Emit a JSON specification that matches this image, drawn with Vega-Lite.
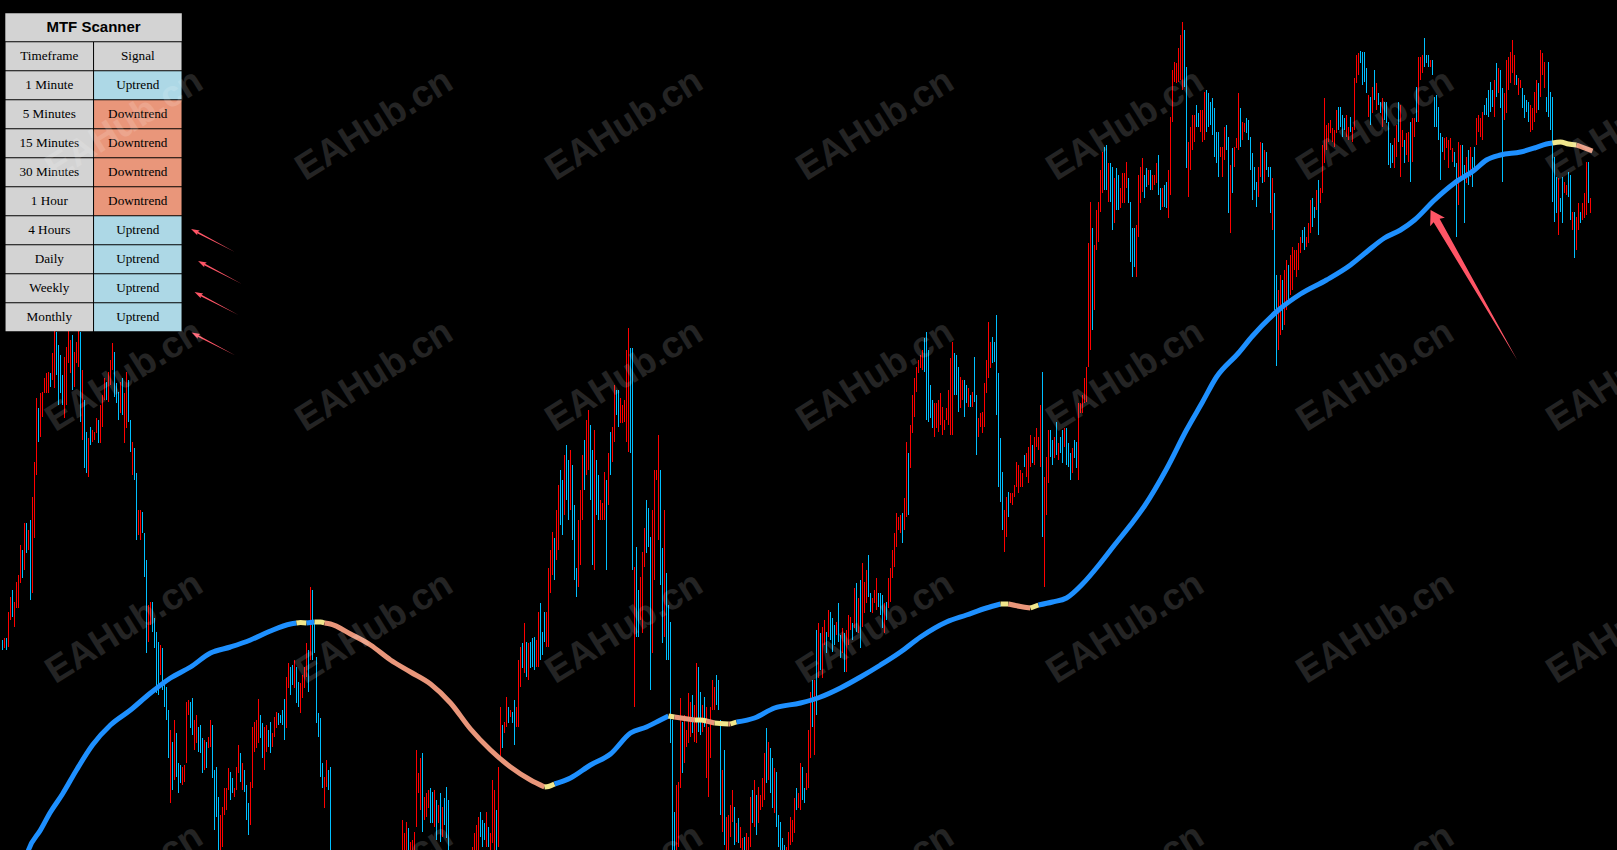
{
"$schema":"https://vega.github.io/schema/vega-lite/v6.json",
"width":1617,"height":850,"padding":0,"autosize":{"type":"none"},
"background":"#000000",
"config":{"view":{"stroke":null}},
"datasets":{
"bars":[
{"k":1,"h":210,"l":200,"c":"d"},{"k":2,"h":212,"l":202,"c":"u"},{"k":3,"h":212,"l":200,"c":"d"},{"k":4,"h":238,"l":203,"c":"u"},{"k":5,"h":253,"l":230,"c":"u"},{"k":6,"h":260,"l":233,"c":"d"},{"k":7,"h":248,"l":223,"c":"u"},{"k":8,"h":268,"l":242,"c":"u"},{"k":9,"h":275,"l":242,"c":"u"},{"k":10,"h":305,"l":267,"c":"u"},
{"k":11,"h":300,"l":272,"c":"d"},{"k":12,"h":327,"l":280,"c":"u"},{"k":13,"h":327,"l":297,"c":"d"},{"k":14,"h":320,"l":300,"c":"u"},{"k":15,"h":330,"l":250,"c":"d"},{"k":16,"h":353,"l":257,"c":"u"},{"k":17,"h":388,"l":312,"c":"u"},{"k":18,"h":452,"l":375,"c":"u"},{"k":19,"h":442,"l":408,"c":"d"},{"k":20,"h":457,"l":413,"c":"u"},
{"k":21,"h":458,"l":433,"c":"u"},{"k":22,"h":472,"l":457,"c":"u"},{"k":23,"h":477,"l":457,"c":"u"},{"k":24,"h":478,"l":457,"c":"u"},{"k":25,"h":477,"l":463,"c":"d"},{"k":26,"h":497,"l":470,"c":"u"},{"k":27,"h":525,"l":462,"c":"u"},{"k":28,"h":518,"l":475,"c":"d"},{"k":29,"h":505,"l":445,"c":"d"},{"k":30,"h":495,"l":457,"c":"d"},
{"k":31,"h":475,"l":445,"c":"d"},{"k":32,"h":493,"l":432,"c":"u"},{"k":33,"h":503,"l":445,"c":"u"},{"k":34,"h":525,"l":487,"c":"u"},{"k":35,"h":510,"l":477,"c":"u"},{"k":36,"h":515,"l":460,"c":"d"},{"k":37,"h":498,"l":463,"c":"u"},{"k":38,"h":508,"l":487,"c":"u"},{"k":39,"h":528,"l":483,"c":"u"},{"k":40,"h":518,"l":428,"c":"d"},
{"k":41,"h":480,"l":410,"c":"u"},{"k":42,"h":450,"l":382,"c":"d"},{"k":43,"h":418,"l":377,"c":"d"},{"k":44,"h":412,"l":373,"c":"u"},{"k":45,"h":423,"l":405,"c":"d"},{"k":46,"h":420,"l":408,"c":"u"},{"k":47,"h":418,"l":410,"c":"u"},{"k":48,"h":432,"l":417,"c":"u"},{"k":49,"h":430,"l":407,"c":"d"},{"k":50,"h":445,"l":407,"c":"u"},
{"k":51,"h":455,"l":423,"c":"u"},{"k":52,"h":472,"l":450,"c":"u"},{"k":53,"h":468,"l":450,"c":"d"},{"k":54,"h":478,"l":448,"c":"u"},{"k":55,"h":490,"l":465,"c":"u"},{"k":56,"h":507,"l":480,"c":"u"},{"k":57,"h":498,"l":453,"c":"d"},{"k":58,"h":467,"l":447,"c":"d"},{"k":59,"h":458,"l":430,"c":"d"},{"k":60,"h":468,"l":437,"c":"u"},
{"k":61,"h":472,"l":435,"c":"d"},{"k":62,"h":457,"l":407,"c":"u"},{"k":63,"h":478,"l":422,"c":"u"},{"k":64,"h":470,"l":428,"c":"d"},{"k":65,"h":430,"l":398,"c":"d"},{"k":66,"h":408,"l":375,"c":"u"},{"k":67,"h":402,"l":370,"c":"d"},{"k":68,"h":377,"l":310,"c":"d"},{"k":69,"h":340,"l":315,"c":"u"},{"k":70,"h":340,"l":310,"c":"u"},
{"k":71,"h":338,"l":317,"c":"d"},{"k":72,"h":317,"l":273,"c":"d"},{"k":73,"h":290,"l":197,"c":"d"},{"k":74,"h":245,"l":208,"c":"u"},{"k":75,"h":248,"l":225,"c":"u"},{"k":76,"h":248,"l":218,"c":"d"},{"k":77,"h":232,"l":202,"c":"d"},{"k":78,"h":218,"l":157,"c":"d"},{"k":79,"h":208,"l":155,"c":"d"},{"k":80,"h":205,"l":175,"c":"u"},
{"k":81,"h":202,"l":160,"c":"d"},{"k":82,"h":165,"l":143,"c":"d"},{"k":83,"h":163,"l":130,"c":"d"},{"k":84,"h":140,"l":92,"c":"d"},{"k":85,"h":120,"l":47,"c":"u"},{"k":86,"h":108,"l":60,"c":"d"},{"k":87,"h":130,"l":70,"c":"u"},{"k":88,"h":117,"l":73,"c":"d"},{"k":89,"h":87,"l":57,"c":"d"},{"k":90,"h":85,"l":67,"c":"d"},
{"k":91,"h":83,"l":65,"c":"u"},{"k":92,"h":85,"l":68,"c":"u"},{"k":93,"h":148,"l":87,"c":"u"},{"k":94,"h":150,"l":135,"c":"u"},{"k":95,"h":148,"l":122,"c":"d"},{"k":96,"h":152,"l":115,"c":"d"},{"k":97,"h":130,"l":100,"c":"u"},{"k":98,"h":135,"l":107,"c":"u"},{"k":99,"h":123,"l":98,"c":"d"},{"k":100,"h":125,"l":97,"c":"d"},
{"k":101,"h":112,"l":77,"c":"d"},{"k":102,"h":110,"l":80,"c":"u"},{"k":103,"h":108,"l":82,"c":"d"},{"k":104,"h":113,"l":102,"c":"u"},{"k":105,"h":130,"l":103,"c":"u"},{"k":106,"h":125,"l":72,"c":"d"},{"k":107,"h":80,"l":20,"c":"d"},{"k":108,"h":83,"l":33,"c":"d"},{"k":109,"h":53,"l":-10,"c":"d"},{"k":110,"h":35,"l":-10,"c":"u"},
{"k":111,"h":43,"l":3,"c":"u"},{"k":112,"h":62,"l":35,"c":"u"},{"k":113,"h":62,"l":40,"c":"u"},{"k":114,"h":82,"l":60,"c":"u"},{"k":115,"h":78,"l":50,"c":"d"},{"k":116,"h":72,"l":57,"c":"d"},{"k":117,"h":62,"l":53,"c":"u"},{"k":118,"h":83,"l":60,"c":"u"},{"k":119,"h":105,"l":77,"c":"u"},{"k":120,"h":97,"l":68,"c":"d"},
{"k":121,"h":87,"l":60,"c":"u"},{"k":122,"h":80,"l":58,"c":"d"},{"k":123,"h":65,"l":30,"c":"d"},{"k":124,"h":47,"l":15,"c":"d"},{"k":125,"h":68,"l":25,"c":"u"},{"k":126,"h":123,"l":62,"c":"u"},{"k":127,"h":128,"l":98,"c":"u"},{"k":128,"h":130,"l":102,"c":"u"},{"k":129,"h":151,"l":107,"c":"u"},{"k":130,"h":135,"l":112,"c":"d"},
{"k":131,"h":127,"l":92,"c":"d"},{"k":132,"h":123,"l":80,"c":"u"},{"k":133,"h":125,"l":98,"c":"u"},{"k":134,"h":120,"l":103,"c":"d"},{"k":135,"h":128,"l":97,"c":"d"},{"k":136,"h":117,"l":103,"c":"u"},{"k":137,"h":133,"l":113,"c":"u"},{"k":138,"h":138,"l":122,"c":"u"},{"k":139,"h":137,"l":125,"c":"d"},{"k":140,"h":135,"l":127,"c":"d"},
{"k":141,"h":140,"l":125,"c":"d"},{"k":142,"h":151,"l":110,"c":"d"},{"k":143,"h":173,"l":122,"c":"u"},{"k":144,"h":187,"l":162,"c":"u"},{"k":145,"h":183,"l":155,"c":"d"},{"k":146,"h":185,"l":165,"c":"d"},{"k":147,"h":190,"l":162,"c":"u"},{"k":148,"h":183,"l":147,"c":"d"},{"k":149,"h":168,"l":143,"c":"d"},{"k":150,"h":167,"l":137,"c":"u"},
{"k":151,"h":175,"l":152,"c":"u"},{"k":152,"h":183,"l":162,"c":"u"},{"k":153,"h":207,"l":173,"c":"u"},{"k":154,"h":200,"l":158,"c":"d"},{"k":155,"h":263,"l":190,"c":"u"},{"k":156,"h":260,"l":190,"c":"d"},{"k":157,"h":227,"l":197,"c":"d"},{"k":158,"h":193,"l":127,"c":"d"},{"k":159,"h":137,"l":113,"c":"d"},{"k":160,"h":132,"l":73,"c":"d"},
{"k":161,"h":87,"l":62,"c":"d"},{"k":162,"h":73,"l":42,"c":"u"},{"k":163,"h":90,"l":63,"c":"u"},{"k":164,"h":80,"l":60,"c":"d"},{"k":165,"h":83,"l":-20,"c":"d"},{"k":166,"h":-5,"l":-60,"c":"d"},{"k":167,"h":-20,"l":-70,"c":"d"},{"k":168,"h":-15,"l":-55,"c":"u"},{"k":169,"h":-30,"l":-80,"c":"d"},{"k":170,"h":-40,"l":-95,"c":"d"},
{"k":171,"h":-35,"l":-80,"c":"u"},{"k":172,"h":-25,"l":-70,"c":"u"},{"k":173,"h":-30,"l":-85,"c":"d"},{"k":174,"h":-50,"l":-100,"c":"d"},{"k":175,"h":-45,"l":-90,"c":"u"},{"k":176,"h":-55,"l":-110,"c":"d"},{"k":177,"h":-70,"l":-120,"c":"d"},{"k":178,"h":-60,"l":-105,"c":"u"},{"k":179,"h":-50,"l":-95,"c":"u"},{"k":180,"h":-55,"l":-100,"c":"d"},
{"k":181,"h":-40,"l":-90,"c":"u"},{"k":182,"h":-30,"l":-75,"c":"u"},{"k":183,"h":-35,"l":-80,"c":"d"},{"k":184,"h":-50,"l":-95,"c":"d"},{"k":185,"h":-45,"l":-85,"c":"u"},{"k":186,"h":-35,"l":-80,"c":"u"},{"k":187,"h":-40,"l":-90,"c":"d"},{"k":188,"h":-55,"l":-100,"c":"d"},{"k":189,"h":-50,"l":-95,"c":"u"},{"k":190,"h":-40,"l":-85,"c":"u"},
{"k":191,"h":-30,"l":-70,"c":"u"},{"k":192,"h":-35,"l":-75,"c":"d"},{"k":193,"h":-25,"l":-65,"c":"u"},{"k":194,"h":-15,"l":-60,"c":"u"},{"k":195,"h":-20,"l":-70,"c":"d"},{"k":196,"h":-10,"l":-55,"c":"u"},{"k":197,"h":-5,"l":-45,"c":"u"},{"k":198,"h":-15,"l":-50,"c":"d"},{"k":199,"h":-5,"l":-40,"c":"u"},{"k":200,"h":-3,"l":-30,"c":"u"},
{"k":201,"h":30,"l":-15,"c":"u"},{"k":202,"h":17,"l":-10,"c":"u"},{"k":203,"h":28,"l":-15,"c":"u"},{"k":204,"h":22,"l":-10,"c":"d"},{"k":205,"h":8,"l":-20,"c":"u"},{"k":206,"h":10,"l":-15,"c":"u"},{"k":207,"h":18,"l":-10,"c":"u"},{"k":208,"h":100,"l":23,"c":"u"},{"k":209,"h":77,"l":57,"c":"u"},{"k":210,"h":92,"l":40,"c":"u"},
{"k":211,"h":97,"l":18,"c":"d"},{"k":212,"h":53,"l":30,"c":"u"},{"k":213,"h":57,"l":33,"c":"u"},{"k":214,"h":60,"l":42,"c":"u"},{"k":215,"h":62,"l":27,"c":"d"},{"k":216,"h":58,"l":27,"c":"d"},{"k":217,"h":60,"l":23,"c":"u"},{"k":218,"h":50,"l":10,"c":"d"},{"k":219,"h":45,"l":27,"c":"u"},{"k":220,"h":57,"l":8,"c":"d"},
{"k":221,"h":43,"l":13,"c":"u"},{"k":222,"h":52,"l":25,"c":"d"},{"k":223,"h":63,"l":12,"c":"d"},{"k":224,"h":50,"l":-15,"c":"d"},{"k":225,"h":-5,"l":-50,"c":"d"},{"k":226,"h":-15,"l":-60,"c":"d"},{"k":227,"h":-10,"l":-55,"c":"u"},{"k":228,"h":-25,"l":-70,"c":"d"},{"k":229,"h":-30,"l":-80,"c":"d"},{"k":230,"h":-20,"l":-65,"c":"u"},
{"k":231,"h":-15,"l":-60,"c":"u"},{"k":232,"h":-20,"l":-60,"c":"d"},{"k":233,"h":-10,"l":-50,"c":"u"},{"k":234,"h":-5,"l":-45,"c":"u"},{"k":235,"h":-8,"l":-40,"c":"d"},{"k":236,"h":3,"l":-20,"c":"u"},{"k":237,"h":17,"l":-15,"c":"u"},{"k":238,"h":25,"l":-10,"c":"u"},{"k":239,"h":33,"l":0,"c":"u"},{"k":240,"h":38,"l":13,"c":"d"},
{"k":241,"h":30,"l":3,"c":"d"},{"k":242,"h":27,"l":10,"c":"d"},{"k":243,"h":38,"l":3,"c":"u"},{"k":244,"h":23,"l":3,"c":"d"},{"k":245,"h":17,"l":-10,"c":"u"},{"k":246,"h":70,"l":7,"c":"u"},{"k":247,"h":60,"l":-10,"c":"u"},{"k":248,"h":40,"l":-10,"c":"d"},{"k":249,"h":83,"l":3,"c":"u"},{"k":250,"h":143,"l":90,"c":"u"},
{"k":251,"h":125,"l":102,"c":"d"},{"k":252,"h":128,"l":117,"c":"u"},{"k":253,"h":153,"l":123,"c":"u"},{"k":254,"h":143,"l":127,"c":"d"},{"k":255,"h":140,"l":133,"c":"u"},{"k":256,"h":138,"l":127,"c":"d"},{"k":257,"h":150,"l":105,"c":"d"},{"k":258,"h":143,"l":123,"c":"u"},{"k":259,"h":190,"l":123,"c":"u"},{"k":260,"h":203,"l":163,"c":"u"},
{"k":261,"h":207,"l":182,"c":"d"},{"k":262,"h":227,"l":177,"c":"u"},{"k":263,"h":208,"l":173,"c":"d"},{"k":264,"h":207,"l":170,"c":"u"},{"k":265,"h":208,"l":182,"c":"d"},{"k":266,"h":212,"l":183,"c":"d"},{"k":267,"h":213,"l":180,"c":"d"},{"k":268,"h":210,"l":183,"c":"u"},{"k":269,"h":238,"l":183,"c":"u"},{"k":270,"h":247,"l":190,"c":"d"},
{"k":271,"h":218,"l":195,"c":"d"},{"k":272,"h":238,"l":208,"c":"d"},{"k":273,"h":238,"l":203,"c":"u"},{"k":274,"h":282,"l":203,"c":"u"},{"k":275,"h":300,"l":257,"c":"u"},{"k":276,"h":318,"l":275,"c":"u"},{"k":277,"h":312,"l":270,"c":"d"},{"k":278,"h":340,"l":290,"c":"u"},{"k":279,"h":365,"l":300,"c":"u"},{"k":280,"h":380,"l":325,"c":"d"},
{"k":281,"h":370,"l":315,"c":"d"},{"k":282,"h":395,"l":335,"c":"u"},{"k":283,"h":405,"l":350,"c":"d"},{"k":284,"h":390,"l":330,"c":"d"},{"k":285,"h":400,"l":340,"c":"u"},{"k":286,"h":385,"l":310,"c":"d"},{"k":287,"h":345,"l":270,"c":"d"},{"k":288,"h":282,"l":253,"c":"d"},{"k":289,"h":330,"l":263,"c":"u"},{"k":290,"h":360,"l":285,"c":"u"},
{"k":291,"h":395,"l":330,"c":"u"},{"k":292,"h":410,"l":360,"c":"d"},{"k":293,"h":430,"l":375,"c":"u"},{"k":294,"h":440,"l":380,"c":"u"},{"k":295,"h":425,"l":350,"c":"d"},{"k":296,"h":400,"l":285,"c":"d"},{"k":297,"h":420,"l":280,"c":"u"},{"k":298,"h":390,"l":335,"c":"d"},{"k":299,"h":375,"l":330,"c":"d"},{"k":300,"h":350,"l":330,"c":"u"},
{"k":301,"h":347,"l":330,"c":"u"},{"k":302,"h":378,"l":330,"c":"u"},{"k":303,"h":370,"l":280,"c":"d"},{"k":304,"h":397,"l":345,"c":"u"},{"k":305,"h":418,"l":375,"c":"d"},{"k":306,"h":423,"l":388,"c":"u"},{"k":307,"h":465,"l":408,"c":"u"},{"k":308,"h":460,"l":435,"c":"d"},{"k":309,"h":460,"l":423,"c":"d"},{"k":310,"h":452,"l":427,"c":"u"},
{"k":311,"h":445,"l":427,"c":"u"},{"k":312,"h":450,"l":428,"c":"u"},{"k":313,"h":500,"l":408,"c":"u"},{"k":314,"h":522,"l":398,"c":"u"},{"k":315,"h":502,"l":397,"c":"d"},{"k":316,"h":502,"l":280,"c":"d"},{"k":317,"h":283,"l":143,"c":"u"},{"k":318,"h":303,"l":213,"c":"d"},{"k":319,"h":260,"l":213,"c":"d"},{"k":320,"h":273,"l":230,"c":"u"},
{"k":321,"h":298,"l":217,"c":"u"},{"k":322,"h":322,"l":283,"c":"u"},{"k":323,"h":350,"l":297,"c":"d"},{"k":324,"h":342,"l":303,"c":"d"},{"k":325,"h":313,"l":160,"c":"d"},{"k":326,"h":340,"l":197,"c":"u"},{"k":327,"h":380,"l":270,"c":"u"},{"k":328,"h":380,"l":370,"c":"u"},{"k":329,"h":415,"l":310,"c":"u"},{"k":330,"h":380,"l":265,"c":"d"},
{"k":331,"h":302,"l":207,"c":"d"},{"k":332,"h":340,"l":213,"c":"u"},{"k":333,"h":277,"l":190,"c":"d"},{"k":334,"h":245,"l":190,"c":"d"},{"k":335,"h":228,"l":107,"c":"d"},{"k":336,"h":130,"l":-10,"c":"d"},{"k":337,"h":38,"l":-10,"c":"d"},{"k":338,"h":65,"l":-10,"c":"u"},{"k":339,"h":68,"l":3,"c":"u"},{"k":340,"h":152,"l":62,"c":"u"},
{"k":341,"h":128,"l":77,"c":"d"},{"k":342,"h":135,"l":87,"c":"u"},{"k":343,"h":120,"l":103,"c":"u"},{"k":344,"h":157,"l":107,"c":"u"},{"k":345,"h":148,"l":113,"c":"u"},{"k":346,"h":155,"l":117,"c":"d"},{"k":347,"h":145,"l":108,"c":"u"},{"k":348,"h":187,"l":107,"c":"u"},{"k":349,"h":183,"l":118,"c":"d"},{"k":350,"h":158,"l":115,"c":"d"},
{"k":351,"h":145,"l":118,"c":"u"},{"k":352,"h":153,"l":123,"c":"d"},{"k":353,"h":143,"l":72,"c":"u"},{"k":354,"h":123,"l":53,"c":"u"},{"k":355,"h":143,"l":92,"c":"u"},{"k":356,"h":170,"l":140,"c":"u"},{"k":357,"h":163,"l":140,"c":"u"},{"k":358,"h":175,"l":145,"c":"d"},{"k":359,"h":170,"l":140,"c":"d"},{"k":360,"h":130,"l":35,"c":"d"},
{"k":361,"h":80,"l":18,"c":"u"},{"k":362,"h":100,"l":5,"c":"d"},{"k":363,"h":33,"l":-10,"c":"u"},{"k":364,"h":35,"l":-10,"c":"u"},{"k":365,"h":45,"l":13,"c":"u"},{"k":366,"h":60,"l":28,"c":"u"},{"k":367,"h":43,"l":5,"c":"d"},{"k":368,"h":27,"l":8,"c":"u"},{"k":369,"h":32,"l":7,"c":"d"},{"k":370,"h":23,"l":2,"c":"u"},
{"k":371,"h":12,"l":-10,"c":"u"},{"k":372,"h":13,"l":-10,"c":"d"},{"k":373,"h":17,"l":-10,"c":"u"},{"k":374,"h":13,"l":-10,"c":"u"},{"k":375,"h":53,"l":3,"c":"u"},{"k":376,"h":60,"l":27,"c":"d"},{"k":377,"h":70,"l":23,"c":"u"},{"k":378,"h":55,"l":15,"c":"d"},{"k":379,"h":63,"l":27,"c":"u"},{"k":380,"h":55,"l":40,"c":"u"},
{"k":381,"h":72,"l":43,"c":"u"},{"k":382,"h":97,"l":50,"c":"u"},{"k":383,"h":122,"l":67,"c":"d"},{"k":384,"h":108,"l":70,"c":"u"},{"k":385,"h":102,"l":57,"c":"d"},{"k":386,"h":92,"l":42,"c":"d"},{"k":387,"h":82,"l":37,"c":"u"},{"k":388,"h":78,"l":23,"c":"d"},{"k":389,"h":35,"l":3,"c":"d"},{"k":390,"h":28,"l":-10,"c":"d"},
{"k":391,"h":12,"l":-15,"c":"d"},{"k":392,"h":5,"l":-20,"c":"d"},{"k":393,"h":3,"l":-20,"c":"u"},{"k":394,"h":18,"l":-10,"c":"u"},{"k":395,"h":33,"l":5,"c":"u"},{"k":396,"h":30,"l":8,"c":"u"},{"k":397,"h":52,"l":17,"c":"u"},{"k":398,"h":62,"l":40,"c":"d"},{"k":399,"h":57,"l":42,"c":"u"},{"k":400,"h":87,"l":40,"c":"u"},
{"k":401,"h":83,"l":50,"c":"d"},{"k":402,"h":62,"l":47,"c":"d"},{"k":403,"h":77,"l":60,"c":"u"},{"k":404,"h":120,"l":62,"c":"u"},{"k":405,"h":158,"l":92,"c":"u"},{"k":406,"h":170,"l":123,"c":"d"},{"k":407,"h":170,"l":95,"c":"u"},{"k":408,"h":220,"l":135,"c":"d"},{"k":409,"h":227,"l":172,"c":"u"},{"k":410,"h":217,"l":180,"c":"d"},
{"k":411,"h":223,"l":172,"c":"u"},{"k":412,"h":230,"l":205,"c":"u"},{"k":413,"h":218,"l":197,"c":"d"},{"k":414,"h":240,"l":213,"c":"u"},{"k":415,"h":238,"l":210,"c":"d"},{"k":416,"h":232,"l":198,"c":"d"},{"k":417,"h":225,"l":205,"c":"d"},{"k":418,"h":228,"l":215,"c":"u"},{"k":419,"h":247,"l":208,"c":"d"},{"k":420,"h":215,"l":192,"c":"d"},
{"k":421,"h":222,"l":197,"c":"u"},{"k":422,"h":217,"l":178,"c":"d"},{"k":423,"h":220,"l":178,"c":"u"},{"k":424,"h":235,"l":205,"c":"u"},{"k":425,"h":233,"l":220,"c":"u"},{"k":426,"h":227,"l":210,"c":"d"},{"k":427,"h":262,"l":222,"c":"u"},{"k":428,"h":267,"l":218,"c":"d"},{"k":429,"h":252,"l":217,"c":"u"},{"k":430,"h":270,"l":202,"c":"d"},
{"k":431,"h":287,"l":223,"c":"u"},{"k":432,"h":268,"l":237,"c":"u"},{"k":433,"h":280,"l":247,"c":"u"},{"k":434,"h":295,"l":253,"c":"d"},{"k":435,"h":257,"l":238,"c":"d"},{"k":436,"h":252,"l":237,"c":"u"},{"k":437,"h":260,"l":247,"c":"u"},{"k":438,"h":272,"l":240,"c":"u"},{"k":439,"h":257,"l":243,"c":"d"},{"k":440,"h":257,"l":235,"c":"d"},
{"k":441,"h":255,"l":222,"c":"d"},{"k":442,"h":247,"l":217,"c":"u"},{"k":443,"h":248,"l":230,"c":"d"},{"k":444,"h":272,"l":242,"c":"u"},{"k":445,"h":282,"l":248,"c":"u"},{"k":446,"h":300,"l":272,"c":"u"},{"k":447,"h":317,"l":283,"c":"u"},{"k":448,"h":337,"l":303,"c":"u"},{"k":449,"h":333,"l":320,"c":"u"},{"k":450,"h":335,"l":317,"c":"u"},
{"k":451,"h":337,"l":307,"c":"d"},{"k":452,"h":352,"l":320,"c":"u"},{"k":453,"h":408,"l":333,"c":"u"},{"k":454,"h":397,"l":335,"c":"d"},{"k":455,"h":425,"l":382,"c":"u"},{"k":456,"h":455,"l":417,"c":"u"},{"k":457,"h":472,"l":433,"c":"u"},{"k":458,"h":483,"l":458,"c":"u"},{"k":459,"h":490,"l":477,"c":"u"},{"k":460,"h":495,"l":482,"c":"u"},
{"k":461,"h":500,"l":480,"c":"u"},{"k":462,"h":512,"l":478,"c":"d"},{"k":463,"h":518,"l":430,"c":"d"},{"k":464,"h":500,"l":428,"c":"d"},{"k":465,"h":465,"l":432,"c":"d"},{"k":466,"h":450,"l":422,"c":"d"},{"k":467,"h":447,"l":413,"c":"u"},{"k":468,"h":447,"l":422,"c":"u"},{"k":469,"h":450,"l":418,"c":"u"},{"k":470,"h":457,"l":425,"c":"u"},
{"k":471,"h":443,"l":415,"c":"u"},{"k":472,"h":430,"l":420,"c":"u"},{"k":473,"h":442,"l":430,"c":"u"},{"k":474,"h":460,"l":425,"c":"u"},{"k":475,"h":492,"l":415,"c":"u"},{"k":476,"h":508,"l":415,"c":"u"},{"k":477,"h":497,"l":455,"c":"d"},{"k":478,"h":495,"l":455,"c":"d"},{"k":479,"h":483,"l":438,"c":"d"},{"k":480,"h":473,"l":442,"c":"u"},
{"k":481,"h":470,"l":450,"c":"u"},{"k":482,"h":470,"l":433,"c":"d"},{"k":483,"h":465,"l":447,"c":"d"},{"k":484,"h":462,"l":443,"c":"u"},{"k":485,"h":455,"l":443,"c":"d"},{"k":486,"h":458,"l":443,"c":"u"},{"k":487,"h":493,"l":448,"c":"d"},{"k":488,"h":455,"l":395,"c":"d"},{"k":489,"h":432,"l":413,"c":"u"},{"k":490,"h":437,"l":423,"c":"u"},
{"k":491,"h":438,"l":417,"c":"u"},{"k":492,"h":467,"l":423,"c":"u"},{"k":493,"h":490,"l":457,"c":"u"},{"k":494,"h":528,"l":472,"c":"u"},{"k":495,"h":508,"l":482,"c":"u"},{"k":496,"h":513,"l":487,"c":"d"},{"k":497,"h":508,"l":488,"c":"d"},{"k":498,"h":535,"l":435,"c":"d"},{"k":499,"h":477,"l":363,"c":"d"},{"k":500,"h":412,"l":348,"c":"d"},
{"k":501,"h":378,"l":320,"c":"d"},{"k":502,"h":340,"l":298,"c":"u"},{"k":503,"h":353,"l":313,"c":"u"},{"k":504,"h":358,"l":333,"c":"d"},{"k":505,"h":357,"l":347,"c":"u"},{"k":506,"h":357,"l":345,"c":"u"},{"k":507,"h":365,"l":353,"c":"u"},{"k":508,"h":388,"l":363,"c":"u"},{"k":509,"h":385,"l":357,"c":"u"},{"k":510,"h":380,"l":363,"c":"u"},
{"k":511,"h":377,"l":363,"c":"u"},{"k":512,"h":395,"l":383,"c":"d"},{"k":513,"h":397,"l":373,"c":"u"},{"k":514,"h":403,"l":367,"c":"u"},{"k":515,"h":415,"l":383,"c":"u"},{"k":516,"h":405,"l":387,"c":"d"},{"k":517,"h":413,"l":385,"c":"u"},{"k":518,"h":422,"l":403,"c":"u"},{"k":519,"h":413,"l":400,"c":"u"},{"k":520,"h":445,"l":383,"c":"u"},
{"k":521,"h":478,"l":313,"c":"d"},{"k":522,"h":373,"l":263,"c":"u"},{"k":523,"h":393,"l":335,"c":"u"},{"k":524,"h":420,"l":367,"c":"u"},{"k":525,"h":420,"l":393,"c":"d"},{"k":526,"h":410,"l":385,"c":"d"},{"k":527,"h":413,"l":392,"c":"u"},{"k":528,"h":428,"l":395,"c":"d"},{"k":529,"h":407,"l":390,"c":"u"},{"k":530,"h":413,"l":397,"c":"d"},
{"k":531,"h":420,"l":387,"c":"d"},{"k":532,"h":422,"l":403,"c":"u"},{"k":533,"h":422,"l":385,"c":"d"},{"k":534,"h":407,"l":383,"c":"d"},{"k":535,"h":397,"l":370,"c":"d"},{"k":536,"h":402,"l":377,"c":"u"},{"k":537,"h":410,"l":392,"c":"d"},{"k":538,"h":408,"l":382,"c":"d"},{"k":539,"h":447,"l":370,"c":"u"},{"k":540,"h":447,"l":437,"c":"u"},
{"k":541,"h":455,"l":437,"c":"u"},{"k":542,"h":472,"l":447,"c":"u"},{"k":543,"h":483,"l":448,"c":"u"},{"k":544,"h":607,"l":483,"c":"u"},{"k":545,"h":648,"l":500,"c":"u"},{"k":546,"h":622,"l":520,"c":"d"},{"k":547,"h":605,"l":540,"c":"u"},{"k":548,"h":640,"l":600,"c":"u"},{"k":549,"h":648,"l":608,"c":"u"},{"k":550,"h":680,"l":638,"c":"u"},
{"k":551,"h":698,"l":657,"c":"u"},{"k":552,"h":703,"l":660,"c":"d"},{"k":553,"h":705,"l":660,"c":"d"},{"k":554,"h":687,"l":648,"c":"u"},{"k":555,"h":687,"l":648,"c":"d"},{"k":556,"h":683,"l":620,"c":"d"},{"k":557,"h":672,"l":627,"c":"u"},{"k":558,"h":682,"l":640,"c":"d"},{"k":559,"h":675,"l":640,"c":"d"},{"k":560,"h":662,"l":642,"c":"u"},
{"k":561,"h":677,"l":647,"c":"u"},{"k":562,"h":677,"l":647,"c":"u"},{"k":563,"h":688,"l":662,"c":"u"},{"k":564,"h":672,"l":647,"c":"d"},{"k":565,"h":648,"l":588,"c":"d"},{"k":566,"h":622,"l":573,"c":"d"},{"k":567,"h":622,"l":583,"c":"d"},{"k":568,"h":625,"l":573,"c":"u"},{"k":569,"h":675,"l":613,"c":"u"},{"k":570,"h":683,"l":647,"c":"u"},
{"k":571,"h":692,"l":658,"c":"u"},{"k":572,"h":675,"l":652,"c":"d"},{"k":573,"h":682,"l":663,"c":"d"},{"k":574,"h":680,"l":665,"c":"u"},{"k":575,"h":680,"l":660,"c":"d"},{"k":576,"h":675,"l":660,"c":"u"},{"k":577,"h":675,"l":665,"c":"u"},{"k":578,"h":687,"l":667,"c":"u"},{"k":579,"h":695,"l":655,"c":"d"},{"k":580,"h":662,"l":640,"c":"d"},
{"k":581,"h":662,"l":643,"c":"u"},{"k":582,"h":665,"l":643,"c":"d"},{"k":583,"h":668,"l":642,"c":"d"},{"k":584,"h":680,"l":632,"c":"u"},{"k":585,"h":733,"l":655,"c":"u"},{"k":586,"h":780,"l":728,"c":"u"},{"k":587,"h":788,"l":768,"c":"u"},{"k":588,"h":787,"l":767,"c":"u"},{"k":589,"h":802,"l":768,"c":"u"},{"k":590,"h":815,"l":770,"c":"u"},
{"k":591,"h":828,"l":760,"c":"u"},{"k":592,"h":820,"l":763,"c":"d"},{"k":593,"h":783,"l":682,"c":"d"},{"k":594,"h":708,"l":653,"c":"u"},{"k":595,"h":723,"l":680,"c":"u"},{"k":596,"h":735,"l":700,"c":"u"},{"k":597,"h":735,"l":708,"c":"u"},{"k":598,"h":745,"l":723,"c":"d"},{"k":599,"h":737,"l":723,"c":"d"},{"k":600,"h":740,"l":718,"c":"u"},
{"k":601,"h":740,"l":708,"c":"u"},{"k":602,"h":758,"l":710,"c":"u"},{"k":603,"h":760,"l":718,"c":"d"},{"k":604,"h":757,"l":723,"c":"d"},{"k":605,"h":748,"l":725,"c":"d"},{"k":606,"h":752,"l":715,"c":"d"},{"k":607,"h":742,"l":693,"c":"d"},{"k":608,"h":718,"l":687,"c":"d"},{"k":609,"h":718,"l":673,"c":"d"},{"k":610,"h":703,"l":693,"c":"u"},
{"k":611,"h":703,"l":673,"c":"u"},{"k":612,"h":723,"l":690,"c":"u"},{"k":613,"h":725,"l":700,"c":"d"},{"k":614,"h":713,"l":637,"c":"d"},{"k":615,"h":685,"l":617,"c":"u"},{"k":616,"h":702,"l":657,"c":"d"},{"k":617,"h":703,"l":683,"c":"u"},{"k":618,"h":712,"l":702,"c":"u"},{"k":619,"h":757,"l":700,"c":"u"},{"k":620,"h":742,"l":703,"c":"d"},
{"k":621,"h":728,"l":710,"c":"u"},{"k":622,"h":727,"l":718,"c":"u"},{"k":623,"h":732,"l":717,"c":"d"},{"k":624,"h":730,"l":710,"c":"d"},{"k":625,"h":713,"l":680,"c":"d"},{"k":626,"h":697,"l":650,"c":"d"},{"k":627,"h":683,"l":660,"c":"d"},{"k":628,"h":668,"l":643,"c":"d"},{"k":629,"h":683,"l":653,"c":"u"},{"k":630,"h":708,"l":673,"c":"u"},
{"k":631,"h":707,"l":667,"c":"d"},{"k":632,"h":700,"l":668,"c":"u"},{"k":633,"h":698,"l":680,"c":"d"},{"k":634,"h":683,"l":673,"c":"d"},{"k":635,"h":683,"l":637,"c":"d"},{"k":636,"h":672,"l":620,"c":"u"},{"k":637,"h":657,"l":540,"c":"d"},{"k":638,"h":575,"l":484,"c":"d"},{"k":639,"h":560,"l":500,"c":"u"},{"k":640,"h":575,"l":515,"c":"u"},
{"k":641,"h":570,"l":520,"c":"d"},{"k":642,"h":580,"l":525,"c":"u"},{"k":643,"h":590,"l":540,"c":"u"},{"k":644,"h":585,"l":545,"c":"d"},{"k":645,"h":595,"l":555,"c":"u"},{"k":646,"h":603,"l":560,"c":"u"},{"k":647,"h":600,"l":580,"c":"u"},{"k":648,"h":600,"l":573,"c":"u"},{"k":649,"h":607,"l":580,"c":"u"},{"k":650,"h":613,"l":597,"c":"u"},
{"k":651,"h":620,"l":607,"c":"d"},{"k":652,"h":623,"l":600,"c":"d"},{"k":653,"h":613,"l":603,"c":"u"},{"k":654,"h":627,"l":607,"c":"u"},{"k":655,"h":650,"l":617,"c":"u"},{"k":656,"h":652,"l":623,"c":"d"},{"k":657,"h":643,"l":632,"c":"d"},{"k":658,"h":660,"l":640,"c":"u"},{"k":659,"h":670,"l":615,"c":"d"},{"k":660,"h":662,"l":647,"c":"u"},
{"k":661,"h":705,"l":657,"c":"u"},{"k":662,"h":752,"l":687,"c":"u"},{"k":663,"h":725,"l":700,"c":"u"},{"k":664,"h":727,"l":708,"c":"u"},{"k":665,"h":730,"l":717,"c":"u"},{"k":666,"h":722,"l":708,"c":"u"},{"k":667,"h":720,"l":703,"c":"u"},{"k":668,"h":740,"l":717,"c":"u"},{"k":669,"h":743,"l":720,"c":"d"},{"k":670,"h":743,"l":723,"c":"d"},
{"k":671,"h":735,"l":713,"c":"d"},{"k":672,"h":732,"l":720,"c":"d"},{"k":673,"h":735,"l":713,"c":"u"},{"k":674,"h":723,"l":710,"c":"u"},{"k":675,"h":733,"l":718,"c":"d"},{"k":676,"h":723,"l":708,"c":"u"},{"k":677,"h":772,"l":720,"c":"u"},{"k":678,"h":795,"l":767,"c":"u"},{"k":679,"h":797,"l":775,"c":"u"},{"k":680,"h":799,"l":787,"c":"d"},
{"k":681,"h":798,"l":765,"c":"d"},{"k":682,"h":798,"l":768,"c":"d"},{"k":683,"h":782,"l":757,"c":"d"},{"k":684,"h":755,"l":733,"c":"u"},{"k":685,"h":753,"l":725,"c":"d"},{"k":686,"h":763,"l":737,"c":"u"},{"k":687,"h":780,"l":750,"c":"d"},{"k":688,"h":767,"l":740,"c":"u"},{"k":689,"h":757,"l":745,"c":"d"},{"k":690,"h":748,"l":737,"c":"d"},
{"k":691,"h":752,"l":723,"c":"u"},{"k":692,"h":748,"l":730,"c":"d"},{"k":693,"h":748,"l":727,"c":"d"},{"k":694,"h":728,"l":685,"c":"d"},{"k":695,"h":707,"l":682,"c":"d"},{"k":696,"h":705,"l":687,"c":"d"},{"k":697,"h":712,"l":682,"c":"u"},{"k":698,"h":725,"l":693,"c":"u"},{"k":699,"h":748,"l":708,"c":"d"},{"k":700,"h":745,"l":673,"c":"u"},
{"k":701,"h":720,"l":703,"c":"u"},{"k":702,"h":710,"l":687,"c":"d"},{"k":703,"h":717,"l":695,"c":"u"},{"k":704,"h":718,"l":688,"c":"u"},{"k":705,"h":728,"l":668,"c":"d"},{"k":706,"h":732,"l":688,"c":"u"},{"k":707,"h":732,"l":713,"c":"u"},{"k":708,"h":763,"l":728,"c":"d"},{"k":709,"h":793,"l":728,"c":"u"},{"k":710,"h":793,"l":770,"c":"u"},
{"k":711,"h":795,"l":777,"c":"u"},{"k":712,"h":812,"l":783,"c":"d"},{"k":713,"h":795,"l":787,"c":"d"},{"k":714,"h":795,"l":783,"c":"d"},{"k":715,"h":790,"l":783,"c":"u"},{"k":716,"h":790,"l":775,"c":"d"},{"k":717,"h":753,"l":723,"c":"d"},{"k":718,"h":755,"l":723,"c":"d"},{"k":719,"h":743,"l":710,"c":"d"},{"k":720,"h":717,"l":670,"c":"d"},
{"k":721,"h":713,"l":698,"c":"d"},{"k":722,"h":712,"l":690,"c":"u"},{"k":723,"h":713,"l":702,"c":"u"},{"k":724,"h":710,"l":682,"c":"u"},{"k":725,"h":712,"l":700,"c":"u"},{"k":726,"h":702,"l":688,"c":"u"},{"k":727,"h":698,"l":683,"c":"d"},{"k":728,"h":687,"l":613,"c":"d"},{"k":729,"h":708,"l":645,"c":"u"},{"k":730,"h":705,"l":670,"c":"u"},
{"k":731,"h":705,"l":670,"c":"d"},{"k":732,"h":685,"l":627,"c":"d"},{"k":733,"h":693,"l":667,"c":"u"},{"k":734,"h":700,"l":665,"c":"d"},{"k":735,"h":703,"l":673,"c":"u"},{"k":736,"h":693,"l":663,"c":"d"},{"k":737,"h":703,"l":677,"c":"d"},{"k":738,"h":732,"l":705,"c":"u"},{"k":739,"h":735,"l":718,"c":"u"},{"k":740,"h":732,"l":713,"c":"u"},
{"k":741,"h":738,"l":710,"c":"u"},{"k":742,"h":745,"l":735,"c":"d"},{"k":743,"h":752,"l":735,"c":"d"},{"k":744,"h":760,"l":733,"c":"d"},{"k":745,"h":768,"l":738,"c":"d"},{"k":746,"h":760,"l":743,"c":"d"},{"k":747,"h":770,"l":733,"c":"u"},{"k":748,"h":787,"l":753,"c":"d"},{"k":749,"h":782,"l":757,"c":"u"},{"k":750,"h":780,"l":742,"c":"d"},
{"k":751,"h":762,"l":668,"c":"d"},{"k":752,"h":757,"l":730,"c":"u"},{"k":753,"h":790,"l":737,"c":"u"},{"k":754,"h":793,"l":760,"c":"u"},{"k":755,"h":798,"l":767,"c":"u"},{"k":756,"h":810,"l":777,"c":"u"},{"k":757,"h":795,"l":765,"c":"u"},{"k":758,"h":775,"l":765,"c":"d"},{"k":759,"h":772,"l":755,"c":"u"},{"k":760,"h":770,"l":762,"c":"u"},
{"k":761,"h":762,"l":742,"c":"d"},{"k":762,"h":755,"l":732,"c":"d"},{"k":763,"h":750,"l":738,"c":"d"},{"k":764,"h":748,"l":728,"c":"d"},{"k":765,"h":745,"l":718,"c":"u"},{"k":766,"h":742,"l":720,"c":"u"},{"k":767,"h":758,"l":728,"c":"u"},{"k":768,"h":770,"l":737,"c":"u"},{"k":769,"h":767,"l":740,"c":"d"},{"k":770,"h":800,"l":753,"c":"u"},
{"k":771,"h":797,"l":775,"c":"u"},{"k":772,"h":788,"l":762,"c":"u"},{"k":773,"h":753,"l":738,"c":"d"},{"k":774,"h":788,"l":733,"c":"d"},{"k":775,"h":758,"l":720,"c":"d"},{"k":776,"h":753,"l":648,"c":"d"},{"k":777,"h":693,"l":628,"c":"d"},{"k":778,"h":673,"l":637,"c":"d"},{"k":779,"h":672,"l":615,"c":"u"},{"k":780,"h":652,"l":638,"c":"d"},
{"k":781,"h":673,"l":627,"c":"d"},{"k":782,"h":668,"l":657,"c":"u"},{"k":783,"h":665,"l":655,"c":"u"},{"k":784,"h":678,"l":653,"c":"d"},{"k":785,"h":675,"l":630,"c":"d"},{"k":786,"h":638,"l":620,"c":"u"},{"k":787,"h":638,"l":592,"c":"d"},{"k":788,"h":633,"l":600,"c":"u"},{"k":789,"h":647,"l":620,"c":"u"},{"k":790,"h":638,"l":627,"c":"d"},
{"k":791,"h":647,"l":630,"c":"u"},{"k":792,"h":657,"l":632,"c":"u"},{"k":793,"h":688,"l":635,"c":"u"},{"k":794,"h":688,"l":647,"c":"d"},{"k":795,"h":652,"l":637,"c":"u"}
],
"ma":[
{"k":10,"m":-30,"s":1,"c":"b"},{"k":14,"m":0,"s":1,"c":"b"},{"k":20,"m":20,"s":1,"c":"b"},{"k":25,"m":38,"s":1,"c":"b"},{"k":31,"m":56,"s":1,"c":"b"},{"k":38,"m":80,"s":1,"c":"b"},{"k":46,"m":105,"s":1,"c":"b"},{"k":55,"m":125,"s":1,"c":"b"},{"k":65,"m":140,"s":1,"c":"b"},{"k":75,"m":157,"s":1,"c":"b"},{"k":85,"m":172,"s":1,"c":"b"},{"k":95,"m":183,"s":1,"c":"b"},{"k":105,"m":197,"s":1,"c":"b"},{"k":115,"m":203,"s":1,"c":"b"},{"k":125,"m":210,"s":1,"c":"b"},{"k":135,"m":219,"s":1,"c":"b"},{"k":145,"m":226,"s":1,"c":"b"},{"k":148,"m":227,"s":1,"c":"b"},
{"k":148,"m":227,"s":2,"c":"y"},{"k":150,"m":227.5,"s":2,"c":"y"},{"k":153,"m":227,"s":2,"c":"y"},
{"k":153,"m":227,"s":3,"c":"b"},{"k":157,"m":228,"s":3,"c":"b"},
{"k":157,"m":228,"s":4,"c":"y"},{"k":160,"m":228,"s":4,"c":"y"},{"k":162,"m":227,"s":4,"c":"y"},
{"k":162,"m":227,"s":5,"c":"s"},{"k":165,"m":226,"s":5,"c":"s"},{"k":175,"m":216,"s":5,"c":"s"},{"k":185,"m":205,"s":5,"c":"s"},{"k":195,"m":190,"s":5,"c":"s"},{"k":205,"m":178,"s":5,"c":"s"},{"k":215,"m":166,"s":5,"c":"s"},{"k":225,"m":147,"s":5,"c":"s"},{"k":235,"m":121,"s":5,"c":"s"},{"k":245,"m":100,"s":5,"c":"s"},{"k":255,"m":83,"s":5,"c":"s"},{"k":265,"m":70,"s":5,"c":"s"},{"k":272,"m":63,"s":5,"c":"s"},
{"k":272,"m":63,"s":6,"c":"y"},{"k":274,"m":63.5,"s":6,"c":"y"},{"k":277,"m":66,"s":6,"c":"y"},
{"k":277,"m":66,"s":7,"c":"b"},{"k":285,"m":72,"s":7,"c":"b"},{"k":295,"m":85,"s":7,"c":"b"},{"k":305,"m":96,"s":7,"c":"b"},{"k":315,"m":117,"s":7,"c":"b"},{"k":323,"m":123,"s":7,"c":"b"},{"k":330,"m":130,"s":7,"c":"b"},{"k":334,"m":134,"s":7,"c":"b"},
{"k":334,"m":134,"s":8,"c":"y"},{"k":337,"m":133,"s":8,"c":"y"},
{"k":337,"m":133,"s":9,"c":"s"},{"k":342,"m":131.5,"s":9,"c":"s"},{"k":347,"m":130,"s":9,"c":"s"},
{"k":347,"m":130,"s":10,"c":"y"},{"k":350,"m":130,"s":10,"c":"y"},{"k":353,"m":129,"s":10,"c":"y"},
{"k":353,"m":129,"s":11,"c":"s"},{"k":357,"m":127,"s":11,"c":"s"},
{"k":357,"m":127,"s":12,"c":"y"},{"k":360,"m":126.5,"s":12,"c":"y"},{"k":364,"m":126,"s":12,"c":"y"},
{"k":364,"m":126,"s":13,"c":"s"},{"k":365,"m":126,"s":13,"c":"s"},
{"k":365,"m":126,"s":14,"c":"y"},{"k":368,"m":128,"s":14,"c":"y"},
{"k":368,"m":128,"s":15,"c":"b"},{"k":377,"m":132,"s":15,"c":"b"},{"k":387,"m":142,"s":15,"c":"b"},{"k":400,"m":147,"s":15,"c":"b"},{"k":410,"m":153,"s":15,"c":"b"},{"k":420,"m":162,"s":15,"c":"b"},{"k":430,"m":173,"s":15,"c":"b"},{"k":440,"m":185,"s":15,"c":"b"},{"k":450,"m":198,"s":15,"c":"b"},{"k":460,"m":213,"s":15,"c":"b"},{"k":473,"m":228,"s":15,"c":"b"},{"k":483,"m":235,"s":15,"c":"b"},{"k":493,"m":242,"s":15,"c":"b"},{"k":500,"m":246,"s":15,"c":"b"},
{"k":500,"m":246,"s":16,"c":"y"},{"k":504,"m":246,"s":16,"c":"y"},
{"k":504,"m":246,"s":17,"c":"s"},{"k":510,"m":243.5,"s":17,"c":"s"},{"k":515,"m":242,"s":17,"c":"s"},
{"k":515,"m":242,"s":18,"c":"y"},{"k":519,"m":245,"s":18,"c":"y"},
{"k":519,"m":245,"s":19,"c":"b"},{"k":526,"m":248,"s":19,"c":"b"},{"k":533,"m":252,"s":19,"c":"b"},{"k":541,"m":266,"s":19,"c":"b"},{"k":550,"m":287,"s":19,"c":"b"},{"k":557,"m":305,"s":19,"c":"b"},{"k":565,"m":325,"s":19,"c":"b"},{"k":572,"m":344,"s":19,"c":"b"},{"k":583,"m":381,"s":19,"c":"b"},{"k":593,"m":420,"s":19,"c":"b"},{"k":601,"m":448,"s":19,"c":"b"},{"k":608,"m":473,"s":19,"c":"b"},{"k":619,"m":497,"s":19,"c":"b"},{"k":626,"m":514,"s":19,"c":"b"},{"k":639,"m":540,"s":19,"c":"b"},{"k":650,"m":556,"s":19,"c":"b"},{"k":663,"m":570,"s":19,"c":"b"},{"k":675,"m":585,"s":19,"c":"b"},{"k":683,"m":598,"s":19,"c":"b"},{"k":692,"m":612,"s":19,"c":"b"},{"k":700,"m":620,"s":19,"c":"b"},{"k":707,"m":630,"s":19,"c":"b"},{"k":717,"m":650,"s":19,"c":"b"},{"k":727,"m":667,"s":19,"c":"b"},{"k":737,"m":680,"s":19,"c":"b"},{"k":743,"m":690,"s":19,"c":"b"},{"k":750,"m":695,"s":19,"c":"b"},{"k":760,"m":698,"s":19,"c":"b"},{"k":767,"m":702,"s":19,"c":"b"},{"k":773,"m":706,"s":19,"c":"b"},{"k":776,"m":707,"s":19,"c":"b"},
{"k":776,"m":707,"s":20,"c":"y"},{"k":780,"m":708,"s":20,"c":"y"},{"k":784,"m":706,"s":20,"c":"y"},{"k":788,"m":705,"s":20,"c":"y"},
{"k":788,"m":705,"s":21,"c":"s"},{"k":792,"m":702,"s":21,"c":"s"},{"k":796,"m":699,"s":21,"c":"s"}
],
"wm":[
{"k":62,"q":725},{"k":187,"q":725},{"k":312,"q":725},{"k":437.5,"q":725},{"k":562.5,"q":725},{"k":687.5,"q":725},{"k":812.5,"q":725},
{"k":62,"q":474},{"k":187,"q":474},{"k":312,"q":474},{"k":437.5,"q":474},{"k":562.5,"q":474},{"k":687.5,"q":474},{"k":812.5,"q":474},
{"k":62,"q":222},{"k":187,"q":222},{"k":312,"q":222},{"k":437.5,"q":222},{"k":562.5,"q":222},{"k":687.5,"q":222},{"k":812.5,"q":222},
{"k":62,"q":-30},{"k":187,"q":-30},{"k":312,"q":-30},{"k":437.5,"q":-30},{"k":562.5,"q":-30},{"k":687.5,"q":-30},{"k":812.5,"q":-30}
],
"header":[{"r":0,"c":0.5,"t":"MTF Scanner","f":"g"}],
"cells":[
{"r":1,"c":0,"t":"Timeframe","f":"g"},{"r":1,"c":1,"t":"Signal","f":"g"},
{"r":2,"c":0,"t":"1 Minute","f":"g"},{"r":2,"c":1,"t":"Uptrend","f":"u"},
{"r":3,"c":0,"t":"5 Minutes","f":"g"},{"r":3,"c":1,"t":"Downtrend","f":"d"},
{"r":4,"c":0,"t":"15 Minutes","f":"g"},{"r":4,"c":1,"t":"Downtrend","f":"d"},
{"r":5,"c":0,"t":"30 Minutes","f":"g"},{"r":5,"c":1,"t":"Downtrend","f":"d"},
{"r":6,"c":0,"t":"1 Hour","f":"g"},{"r":6,"c":1,"t":"Downtrend","f":"d"},
{"r":7,"c":0,"t":"4 Hours","f":"g"},{"r":7,"c":1,"t":"Uptrend","f":"u"},
{"r":8,"c":0,"t":"Daily","f":"g"},{"r":8,"c":1,"t":"Uptrend","f":"u"},
{"r":9,"c":0,"t":"Weekly","f":"g"},{"r":9,"c":1,"t":"Uptrend","f":"u"},
{"r":10,"c":0,"t":"Monthly","f":"g"},{"r":10,"c":1,"t":"Uptrend","f":"u"}
],
"arrowsSmall":[{"k":106.25,"q":609.5,"a":1},{"k":109.75,"q":577.5,"a":2},{"k":108,"q":546.5,"a":3},{"k":106.5,"q":506,"a":4}],
"arrowBig":[{"k":736.7,"q":565}]
},
"layer":[
{"layer":[
{"mark":{"type":"rule","color":"#7a7a7a","strokeWidth":1},
 "encoding":{"y":{"datum":849.5,"type":"quantitative","scale":{"domain":[0,850],"nice":false,"zero":false},"axis":null}}},
{"mark":{"type":"rule","color":"#7a7a7a","strokeWidth":1},
 "encoding":{"x":{"datum":0,"type":"quantitative","scale":{"domain":[-0.25,808.25],"nice":false,"zero":false},"axis":null}}},
{"data":{"name":"bars"},
 "mark":{"type":"rule","strokeWidth":1,"clip":true},
 "encoding":{
  "x":{"field":"k","type":"quantitative","scale":{"domain":[-0.25,808.25],"nice":false,"zero":false},"axis":null},
  "y":{"field":"h","type":"quantitative","scale":{"domain":[0,850],"nice":false,"zero":false},"axis":null},
  "y2":{"field":"l"},
  "color":{"field":"c","type":"nominal","scale":{"domain":["u","d","b","y","s"],"range":["#ff0000","#00bfff","#1e90ff","#f0e68c","#e9967a"]},"legend":null}}},
{"mark":{"type":"rule","color":"#a0a0a0","strokeWidth":1},
 "encoding":{"y":{"datum":648.5,"type":"quantitative","scale":{"domain":[0,850],"nice":false,"zero":false},"axis":null}}},
{"data":{"name":"ma"},
 "mark":{"type":"line","strokeWidth":5,"interpolate":"monotone","clip":true,"strokeCap":"butt","strokeJoin":"round"},
 "encoding":{
  "x":{"field":"k","type":"quantitative","scale":{"domain":[-0.25,808.25],"nice":false,"zero":false},"axis":null},
  "y":{"field":"m","type":"quantitative","scale":{"domain":[0,850],"nice":false,"zero":false},"axis":null},
  "detail":{"field":"s","type":"nominal"},
  "color":{"field":"c","type":"nominal","scale":{"domain":["u","d","b","y","s"],"range":["#ff0000","#00bfff","#1e90ff","#f0e68c","#e9967a"]},"legend":null}}},
{"data":{"name":"arrowsSmall"},
 "mark":{"type":"point","filled":true,"opacity":1,"color":"#ff5566","strokeWidth":0,"size":2450,"angle":-62.5,
  "shape":"M0,-1L0.11,-0.66L0.035,-0.7L0,1L-0.035,-0.7L-0.11,-0.66Z"},
 "encoding":{
  "x":{"field":"k","type":"quantitative","scale":{"domain":[-0.25,808.25],"nice":false,"zero":false},"axis":null},
  "y":{"field":"q","type":"quantitative","scale":{"domain":[0,850],"nice":false,"zero":false},"axis":null}}},
{"data":{"name":"arrowBig"},
 "mark":{"type":"point","filled":true,"opacity":1,"color":"#ff5566","strokeWidth":0,"size":30030,"angle":-30,
  "shape":"M0,-1L0.098,-0.84L0.04,-0.86L0,1L-0.04,-0.86L-0.098,-0.84Z"},
 "encoding":{
  "x":{"field":"k","type":"quantitative","scale":{"domain":[-0.25,808.25],"nice":false,"zero":false},"axis":null},
  "y":{"field":"q","type":"quantitative","scale":{"domain":[0,850],"nice":false,"zero":false},"axis":null}}}
]},
{"layer":[
{"data":{"name":"header"},
 "mark":{"type":"rect","width":176.5,"height":28},
 "encoding":{
  "x":{"field":"c","type":"quantitative","scale":{"domain":[-0.557,17.714],"nice":false,"zero":false},"axis":null},
  "y":{"field":"r","type":"quantitative","scale":{"domain":[-0.938,28.372],"nice":false,"zero":false,"reverse":true},"axis":null},
  "color":{"field":"f","type":"nominal","scale":{"domain":["g","u","d"],"range":["#d3d3d3","#add8e6","#e9967a"]},"legend":null}}},
{"data":{"name":"cells"},
 "mark":{"type":"rect","width":87.5,"height":28},
 "encoding":{
  "x":{"field":"c","type":"quantitative","scale":{"domain":[-0.557,17.714],"nice":false,"zero":false},"axis":null},
  "y":{"field":"r","type":"quantitative","scale":{"domain":[-0.938,28.372],"nice":false,"zero":false,"reverse":true},"axis":null},
  "color":{"field":"f","type":"nominal","scale":{"domain":["g","u","d"],"range":["#d3d3d3","#add8e6","#e9967a"]},"legend":null}}},
{"data":{"name":"header"},
 "mark":{"type":"text","font":"Liberation Sans","fontWeight":"bold","fontSize":15,"color":"#000000","align":"center","baseline":"middle"},
 "encoding":{
  "x":{"field":"c","type":"quantitative","scale":{"domain":[-0.557,17.714],"nice":false,"zero":false},"axis":null},
  "y":{"field":"r","type":"quantitative","scale":{"domain":[-0.938,28.372],"nice":false,"zero":false,"reverse":true},"axis":null},
  "text":{"field":"t"}}},
{"data":{"name":"cells"},
 "mark":{"type":"text","font":"Liberation Serif","fontSize":13.2,"color":"#000000","align":"center","baseline":"middle"},
 "encoding":{
  "x":{"field":"c","type":"quantitative","scale":{"domain":[-0.557,17.714],"nice":false,"zero":false},"axis":null},
  "y":{"field":"r","type":"quantitative","scale":{"domain":[-0.938,28.372],"nice":false,"zero":false,"reverse":true},"axis":null},
  "text":{"field":"t"}}}
]},
{"data":{"name":"wm"},
 "mark":{"type":"text","text":"EAHub.cn","font":"Liberation Sans","fontWeight":"bold","fontSize":37,"angle":-32,"color":"#ffffff","opacity":0.14,"align":"center","baseline":"middle"},
 "encoding":{
  "x":{"field":"k","type":"quantitative","scale":{"domain":[-0.25,808.25],"nice":false,"zero":false},"axis":null},
  "y":{"field":"q","type":"quantitative","scale":{"domain":[0,850],"nice":false,"zero":false},"axis":null}}}
],
"resolve":{"scale":{"x":"independent","y":"independent","color":"independent"}}
}
